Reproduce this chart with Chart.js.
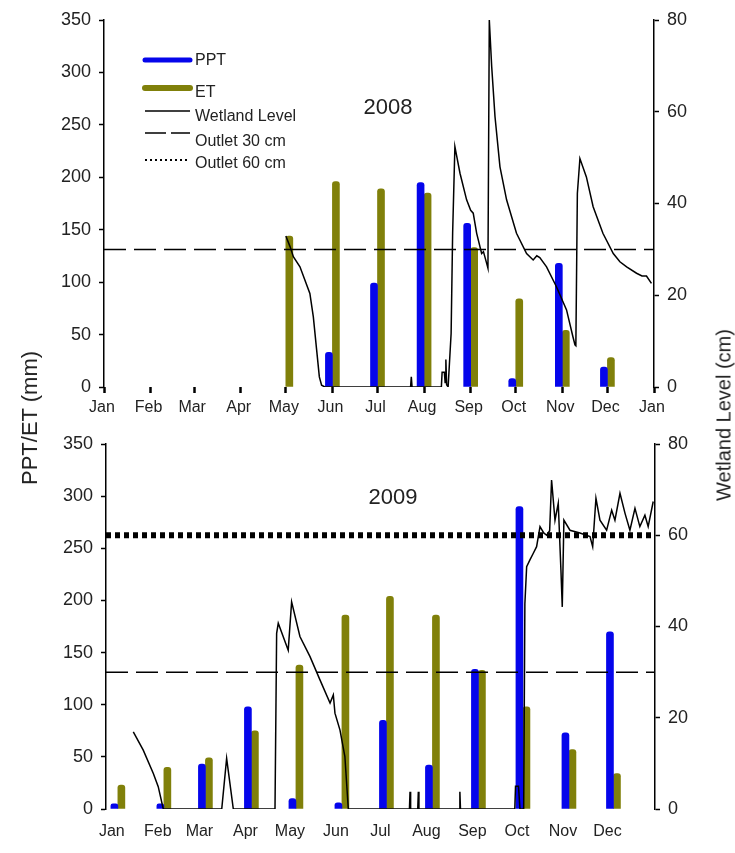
<!DOCTYPE html>
<html>
<head>
<meta charset="utf-8">
<script src="https://cdn.jsdelivr.net/npm/chart.js@4.4.1/dist/chart.umd.min.js"></script>
<style>
  body { margin: 0; background: #fff; }
  #wrap { position: relative; width: 735px; height: 853px; }
  canvas { position: absolute; left: 0; }
  #topChart { top: 0; }
  #botChart { top: 420px; }
  .ytitle {
    position: absolute;
    font-family: "Liberation Sans", Arial, sans-serif;
    color: #222;
    white-space: nowrap;
    transform: translate(-50%, -50%) rotate(-90deg);
  }
</style>
</head>
<body>
<div id="wrap">
  <canvas id="topChart" width="735" height="420"></canvas>
  <canvas id="botChart" width="735" height="433"></canvas>
  <div class="ytitle" style="left:30px; top:418px; font-size:22px;">PPT/ET (mm)</div>
  <div class="ytitle" style="left:724px; top:415px; font-size:20px;">Wetland Level (cm)</div>
</div>
<script>
// Data
//==============================

var monthLabels = ["Jan", "Feb", "Mar", "Apr", "May", "Jun", "Jul", "Aug", "Sep", "Oct", "Nov", "Dec"];
// day of year for the first of each month
var monthStart2008 = [0, 31, 60, 91, 121, 152, 182, 213, 244, 274, 305, 335, 366];
var monthStart2009 = [0, 31, 59, 90, 120, 151, 181, 212, 243, 273, 304, 334];

// monthly totals (mm)
var ppt2008 = [null, null, null, null, null, 33, 99, 195, 156, 8, 118, 19];
var et2008 = [null, null, null, null, 144, 196, 189, 185, 133, 84, 54, 28];
var ppt2009 = [5, 5, 43, 98, 10, 6, 85, 42, 134, 290, 73, 170];
var et2009 = [23, 40, 49, 75, 138, 186, 204, 186, 133, 98, 57, 34];

// wetland level (cm) by day of year
var wetDay2008 = [121, 123.8, 126, 130.4, 137, 139.3, 141.5, 143.3, 144.8, 147,
  204, 204.5, 205, 224.5, 225, 226.5, 227, 227.5, 228, 229,
  231, 232, 233.5, 236.9, 241.3, 244, 245.7, 248, 251.3, 252.5, 254.6, 255.5,
  256.4, 258, 260.2, 263.5, 267.9, 274.5, 281.2, 285.6, 288, 290, 294.5, 301, 307.8, 312, 313.4, 314,
  315, 316.7, 321, 325.5, 332, 338.9, 343.3, 347.8, 354.4, 358, 361, 364.3];
var wetLevel2008 = [32.9, 30.6, 28.4, 26.2, 20.4, 15.3, 8.1, 2.2, 0.4, 0,
  0, 2.2, 0, 0, 3.2, 3.2, 1, 6, 0.5, 0,
  11.7, 33.5, 52.4, 46.6, 40.8, 38.5, 37.9, 33.5, 29.1, 29.5, 27, 25.9,
  80, 69.8, 58.9, 48, 40.8, 33.5, 29.1, 27.7, 28.6, 28.2, 26.2, 21.9, 16.8, 11, 9.2, 9,
  42.2, 49.8, 45.8, 39.3, 33.5, 29.1, 27.3, 26.2, 24.8, 24.2, 24.2, 22.6];

var wetDay2009 = [10.4, 17.1, 23.9, 27.2, 30.6, 70, 73.3, 77.8,
  105.9, 107, 108.1, 114.8, 117.1, 122.7, 129.5, 136.2, 143, 145.2, 146.3, 149.7, 153, 155.3,
  196.5, 196.9, 197.3, 202.1, 202.5, 202.9, 230.1, 230.5, 230.9,
  267.5, 268, 270, 271, 273.5, 274.3, 275.5, 277.7, 279.9, 282.2, 284.5, 287, 289, 291,
  292.3, 294.6, 296.8, 298.6, 299.5, 300.6, 304.7, 311.4, 318.2, 320, 322.2, 324.9,
  329.4, 332.8, 335, 338.4, 341.8, 345.1, 348.5, 351.8, 355.2, 357.4, 360.8];
var wetLevel2009 = [16.9, 12.9, 7.8, 4.9, 0, 0, 11.1, 0,
  0, 38.5, 40.7, 34.8, 45.4, 37.8, 33.4, 28.3, 23.2, 25, 21, 17.3, 11.5, 0,
  0, 3.8, 0, 0, 3.8, 0, 0, 3.8, 0,
  0, 5, 5, 0, 0, 45, 53.1, 54.6, 56, 57.5, 61.9, 60.5, 60, 61,
  72.1, 63.3, 67, 52.4, 44.3, 63.3, 61.1, 60.5, 59.7, 57.5, 68.1, 63.3,
  61.1, 65.5, 63.3, 69.2, 64.8, 61.1, 65.9, 61.9, 64.4, 61.9, 67.4];

var outlet30 = 30;
var outlet60 = 60;

// Helpers
//==============================

var FONT = '"Liberation Sans", Arial, sans-serif';
var BLUE = "rgb(5, 5, 235)";
var OLIVE = "rgb(128, 128, 10)";

Chart.defaults.font.family = FONT;
Chart.defaults.color = "#222";

function pairs(xs, ys) {
  var out = [];
  for (var i = 0; i < xs.length; i++) {
    out.push({ x: xs[i], y: ys[i] });
  }
  return out;
}

function barSet(label, days, values, color) {
  return {
    type: "bar",
    label: label,
    data: pairs(days, values),
    backgroundColor: color,
    barThickness: 7,
    borderRadius: { topLeft: 3, topRight: 3 },
    borderSkipped: "bottom",
    order: 2
  };
}

function flatLine(label, level, xmin, xmax, dash, width) {
  return {
    type: "line",
    label: label,
    data: [{ x: xmin, y: level }, { x: xmax, y: level }],
    yAxisID: "y2",
    borderColor: "#000",
    borderWidth: width,
    borderDash: dash,
    pointRadius: 0,
    order: 1
  };
}

// year label + (top only) legend
var panelText = {
  id: "panelText",
  afterDraw: function (chart, args, opts) {
    var ctx = chart.ctx;
    var a = chart.chartArea;
    ctx.save();
    ctx.fillStyle = "#222";
    ctx.textAlign = "center";
    ctx.textBaseline = "middle";
    ctx.font = "22px " + FONT;
    ctx.fillText(opts.year, a.left + opts.yearX, a.top + opts.yearY);

    if (opts.legend) {
      var x0 = a.left + 41;
      var x1 = a.left + 86;
      var items = [
        { text: "PPT", ly: 40, ty: 41, color: BLUE, w: 5, dash: [] },
        { text: "ET", ly: 68, ty: 73, color: OLIVE, w: 6, dash: [] },
        { text: "Wetland Level", ly: 91, ty: 97, color: "#000", w: 1.5, dash: [] },
        { text: "Outlet 30 cm", ly: 113, ty: 122, color: "#000", w: 1.5, dash: [21, 5] },
        { text: "Outlet 60 cm", ly: 140, ty: 144, color: "#000", w: 2, dash: [2, 3] }
      ];
      ctx.font = "16px " + FONT;
      ctx.textAlign = "left";
      items.forEach(function (it) {
        ctx.beginPath();
        ctx.setLineDash(it.dash);
        ctx.lineCap = it.w > 3 ? "round" : "butt";
        ctx.strokeStyle = it.color;
        ctx.lineWidth = it.w;
        ctx.moveTo(x0, a.top + it.ly);
        ctx.lineTo(x1, a.top + it.ly);
        ctx.stroke();
        ctx.fillText(it.text, x1 + 5, a.top + it.ty);
      });
    }
    ctx.restore();
  }
};

function buildScales(o) {
  return {
    x: {
      type: "linear",
      offset: false,
      min: o.xmin,
      max: o.xmax,
      afterBuildTicks: function (scale) {
        scale.ticks = o.tickDays.map(function (d) { return { value: d }; });
      },
      afterFit: function (scale) { scale.height = o.xHeight; },
      ticks: {
        autoSkip: false,
        maxRotation: 0,
        padding: o.xPad,
        labelOffset: o.labelOffset,
        font: { size: 16 },
        callback: function (v, i) { return o.tickLabels[i]; }
      },
      grid: o.xTicks
        ? { offset: false, drawOnChartArea: false, tickLength: 6, tickWidth: 2.5, tickColor: "#000" }
        : { offset: false, display: false, drawTicks: false },
      border: { display: false }
    },
    y: {
      position: "left",
      min: 0,
      max: 350,
      afterFit: function (scale) { scale.width = o.leftWidth; },
      ticks: { stepSize: 50, padding: 8, font: { size: 18 } },
      grid: { drawOnChartArea: false, tickLength: 5, tickColor: "#000", tickWidth: 1.5 },
      border: { color: "#000", width: 1.5 }
    },
    y2: {
      position: "right",
      min: 0,
      max: 80,
      afterFit: function (scale) { scale.width = o.rightWidth; },
      ticks: { stepSize: 20, padding: 8, font: { size: 18 } },
      grid: { drawOnChartArea: false, tickLength: 5, tickColor: "#000", tickWidth: 1.5 },
      border: { color: "#000", width: 1.5 }
    }
  };
}

// 2008 panel
//==============================

var top2008 = new Chart(document.getElementById("topChart"), {
  type: "bar",
  data: {
    datasets: [
      {
        type: "line",
        label: "Wetland Level",
        data: pairs(wetDay2008, wetLevel2008),
        yAxisID: "y2",
        borderColor: "#000",
        borderWidth: 1.5,
        pointRadius: 0,
        order: 0
      },
      flatLine("Outlet 30 cm", outlet30, 0, 366, [22, 8], 1.5),
      barSet("PPT", monthStart2008.slice(0, 12), ppt2008, BLUE),
      barSet("ET", monthStart2008.slice(0, 12), et2008, OLIVE)
    ]
  },
  options: {
    responsive: false,
    animation: false,
    layout: { padding: { top: 20 } },
    scales: buildScales({
      xmin: 0, xmax: 366,
      tickDays: monthStart2008,
      tickLabels: monthLabels.concat(["Jan"]),
      xTicks: true, xPad: 5, xHeight: 33, labelOffset: -2,
      leftWidth: 104, rightWidth: 81
    }),
    plugins: {
      legend: { display: false },
      tooltip: { enabled: false },
      panelText: { year: "2008", yearX: 284, yearY: 88, legend: true }
    }
  },
  plugins: [panelText]
});

// 2009 panel
//==============================

var bot2009 = new Chart(document.getElementById("botChart"), {
  type: "bar",
  data: {
    datasets: [
      {
        type: "line",
        label: "Wetland Level",
        data: pairs(wetDay2009, wetLevel2009),
        yAxisID: "y2",
        borderColor: "#000",
        borderWidth: 1.5,
        pointRadius: 0,
        order: 0
      },
      flatLine("Outlet 30 cm", outlet30, -8, 362, [22, 8], 1.5),
      flatLine("Outlet 60 cm", outlet60, -8, 362, [5, 4], 6),
      barSet("PPT", monthStart2009, ppt2009, BLUE),
      barSet("ET", monthStart2009, et2009, OLIVE)
    ]
  },
  options: {
    responsive: false,
    animation: false,
    layout: { padding: { top: 24 } },
    scales: buildScales({
      xmin: -8, xmax: 362,
      tickDays: monthStart2009,
      tickLabels: monthLabels,
      xTicks: false, xPad: 13, xHeight: 44, labelOffset: -6,
      leftWidth: 106, rightWidth: 80
    }),
    plugins: {
      legend: { display: false },
      tooltip: { enabled: false },
      panelText: { year: "2009", yearX: 287, yearY: 54, legend: false }
    }
  },
  plugins: [panelText]
});
</script>
</body>
</html>
